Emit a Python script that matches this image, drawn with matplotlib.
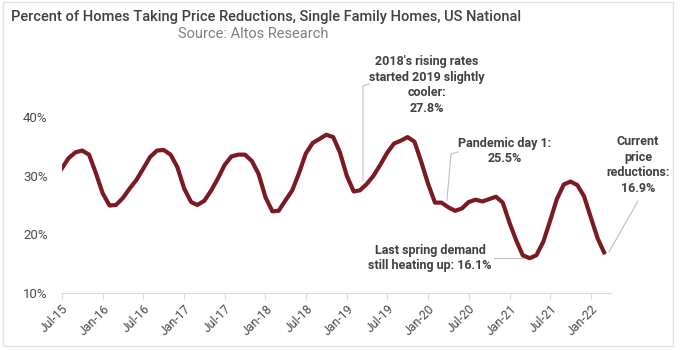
import matplotlib
matplotlib.use("Agg")
import matplotlib.pyplot as plt
from matplotlib.patches import Rectangle
import pandas as pd

# monthly share of homes with a price cut, Jul-2015 .. Mar-2022
months = pd.date_range("2015-07-01", periods=81, freq="MS")
pct_reduced = [
    31.2, 33.0, 34.0, 34.3, 33.6, 30.5,   # Jul-15 .. Dec-15
    27.0, 24.9, 25.0, 26.2, 27.8, 29.3,   # 2016 H1
    31.2, 33.2, 34.3, 34.4, 33.6, 31.5,   # 2016 H2
    27.8, 25.5, 25.0, 25.7, 27.4, 29.5,   # 2017 H1
    31.8, 33.3, 33.6, 33.6, 32.5, 30.3,   # 2017 H2
    26.3, 23.9, 24.0, 25.8, 27.5, 30.5,   # 2018 H1
    33.8, 35.6, 36.3, 37.0, 36.6, 34.0,   # 2018 H2
    30.0, 27.3, 27.5, 28.6, 30.0, 31.9,   # 2019 H1
    33.9, 35.5, 36.0, 36.6, 35.8, 32.4,   # 2019 H2
    28.6, 25.4, 25.4, 24.6, 24.0, 24.4,   # 2020 H1
    25.5, 25.9, 25.6, 26.0, 26.4, 25.4,   # 2020 H2
    21.9, 18.8, 16.4, 15.9, 16.4, 18.7,   # 2021 H1
    22.2, 26.0, 28.5, 29.0, 28.4, 26.5,   # 2021 H2
    22.8, 19.2, 16.9,                     # 2022
]
tick_dates = pd.date_range("2015-07-01", "2022-01-01", freq="6MS")
tick_labels = [d.strftime("%b-%y") for d in tick_dates]
y_ticks = [10, 20, 30, 40]

plt.rcParams["font.family"] = ["Roboto", "DejaVu Sans"]

fig = plt.figure(figsize=(6.8, 3.5), dpi=100)
ax = fig.add_axes([0.0907, 0.1637, 0.8078, 0.585])

ax.plot(months, pct_reduced, color="#7a1a22", lw=3.0)

ax.set_ylim(10, 45)
ax.set_xlim(pd.Timestamp("2015-07-01"), pd.Timestamp("2022-04-01"))
ax.set_yticks(y_ticks)
ax.set_yticklabels([f"{v}%" for v in y_ticks], color="#4a4a4a", fontsize=9.5)
ax.set_xticks(tick_dates)
ax.set_xticklabels(tick_labels, rotation=45, ha="right", rotation_mode="anchor",
                   color="#4a4a4a", fontsize=8.8)
ax.tick_params(axis="y", length=0, pad=10)
ax.tick_params(axis="x", length=4, color="#d9d9d9", pad=3)
for s in ["top", "right", "left"]:
    ax.spines[s].set_visible(False)
ax.spines["bottom"].set_color("#d9d9d9")

fig.text(11 / 680, 1 - 17 / 350, "Percent of Homes Taking Price Reductions, Single Family Homes, US National",
         fontsize=10.5, color="#404040", fontweight="medium", va="center")
fig.text(253 / 680, 1 - 34 / 350, "Source: Altos Research", fontsize=10.5, color="#808080",
         ha="center", va="center")

def px(x, y):
    return (x / 680, 1 - y / 350)

note_kw = dict(fontsize=9, color="#404040", fontweight="bold", ha="center", va="center",
               linespacing=1.25)
fig.text(*px(427, 85), "2018's rising rates\nstarted 2019 slightly\ncooler:\n27.8%", **note_kw)
fig.text(*px(505, 151), "Pandemic day 1:\n25.5%", **note_kw)
fig.text(*px(638, 165), "Current\nprice\nreductions:\n16.9%", **note_kw)
fig.text(*px(430, 258), "Last spring demand\nstill heating up: 16.1%", **note_kw)

lead = dict(color="#bfbfbf", lw=0.8, transform=fig.transFigure)
for xs, ys in [([363, 363, 369], [180, 86, 84]),
               ([447, 451, 458], [200, 154, 152]),
               ([609, 638], [252, 201]),
               ([494, 523], [258, 258])]:
    fig.lines.append(plt.Line2D([x / 680 for x in xs], [1 - y / 350 for y in ys], **lead))

fig.patches.append(Rectangle((3 / 680, 4 / 350), 670 / 680, 344 / 350, fill=False,
                             edgecolor="#e3e3e3", lw=1, transform=fig.transFigure))

fig.savefig("out.png", dpi=100)
